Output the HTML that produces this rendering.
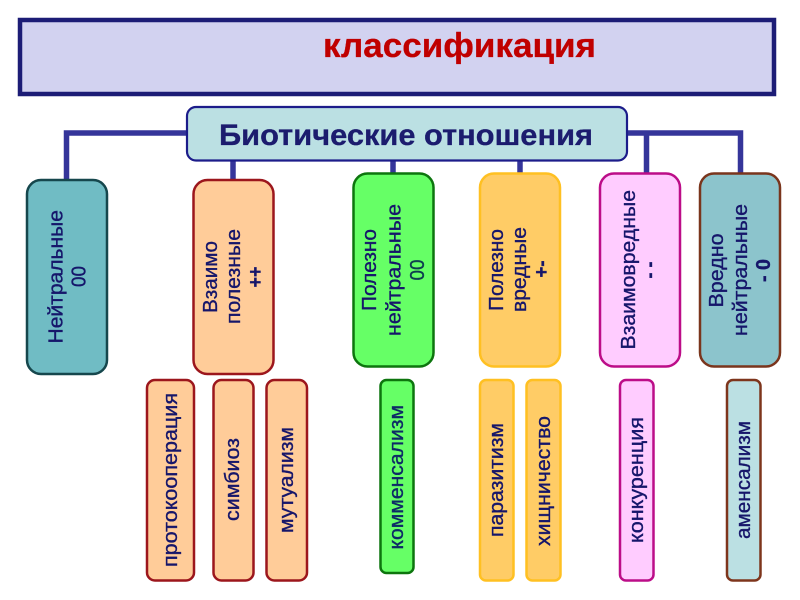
<!DOCTYPE html>
<html><head><meta charset="utf-8">
<style>
html,body{margin:0;padding:0;background:#fff}
svg{display:block}
text{font-family:"Liberation Sans",sans-serif;fill:#14146a;font-size:20px;stroke:#14146a;stroke-width:.35px}
.b{font-weight:bold}
</style></head>
<body>
<svg width="800" height="600" viewBox="0 0 800 600" xmlns="http://www.w3.org/2000/svg">
<defs><filter id="bl" x="0" y="0" width="100%" height="100%"><feGaussianBlur stdDeviation="0.3"/></filter></defs>
<g filter="url(#bl)">
<rect x="0" y="0" width="800" height="600" fill="#fff"/>
<rect x="20" y="20" width="754" height="74" fill="#d2d2f0" stroke="#1e1e76" stroke-width="4.500"/>
<text x="323" y="57" class="b" style="font-size:34px;fill:#c00000;stroke:#c00000;stroke-width:.3px" textLength="273" lengthAdjust="spacingAndGlyphs">классификация</text>

<g fill="none" stroke="#34349a" stroke-width="5.500">
<path d="M190 133H66.500V182"/>
<path d="M233 158V182"/>
<path d="M393 158V176"/>
<path d="M520 158V176"/>
<path d="M625 133H740.500V176"/>
<path d="M646.500 133V176"/>
</g>
<rect x="187" y="107" width="440" height="53.500" rx="9" fill="#bbe0e3" stroke="#1e1e8a" stroke-width="2.200"/>
<text x="219" y="145" class="b" style="font-size:30px;fill:#1a1a6e;stroke:#1a1a6e;stroke-width:.3px" textLength="374" lengthAdjust="spacingAndGlyphs">Биотические отношения</text>

<g stroke-width="2.500">
<rect x="27" y="180" width="80" height="194" rx="14" fill="#6fbcc4" stroke="#15474d"/>
<rect x="193.500" y="180" width="80" height="194" rx="14" fill="#ffcc99" stroke="#9c141c"/>
<rect x="353.500" y="173.500" width="80" height="193" rx="14" fill="#66ff66" stroke="#0a7410"/>
<rect x="480" y="173.500" width="80" height="193" rx="14" fill="#ffcc66" stroke="#ffc020"/>
<rect x="600" y="173.500" width="80" height="193" rx="14" fill="#ffccff" stroke="#bc0e88"/>
<rect x="700" y="173.500" width="80" height="193" rx="14" fill="#8cc4cc" stroke="#7a341e"/>

<rect x="147" y="380" width="47" height="200.500" rx="8" fill="#ffcc99" stroke="#9c141c"/>
<rect x="213.500" y="380" width="40" height="200.500" rx="8" fill="#ffcc99" stroke="#9c141c"/>
<rect x="266.500" y="380" width="40.500" height="200.500" rx="8" fill="#ffcc99" stroke="#9c141c"/>
<rect x="380.500" y="380" width="33" height="193" rx="6" fill="#66ff66" stroke="#0a7410"/>
<rect x="480" y="380" width="33.500" height="200.500" rx="6" fill="#ffcc66" stroke="#ffc020"/>
<rect x="526.500" y="380" width="34" height="200.500" rx="6" fill="#ffcc66" stroke="#ffc020"/>
<rect x="620" y="380" width="33.500" height="200.500" rx="6" fill="#ffccff" stroke="#bc0e88"/>
<rect x="727" y="380" width="33.500" height="200.500" rx="6" fill="#bbe0e3" stroke="#7e361e"/>
</g>

<text transform="translate(62.500,343.500) rotate(-90)" textLength="133.500" lengthAdjust="spacingAndGlyphs">Нейтральные</text>
<text transform="translate(85.500,287) rotate(-90)" textLength="21" lengthAdjust="spacingAndGlyphs">00</text>

<text transform="translate(217,313) rotate(-90)" textLength="72" lengthAdjust="spacingAndGlyphs">Взаимо</text>
<text transform="translate(240,324) rotate(-90)" textLength="95" lengthAdjust="spacingAndGlyphs">полезные</text>
<text transform="translate(262,287.500) rotate(-90)" class="b" textLength="21" lengthAdjust="spacingAndGlyphs">++</text>

<text transform="translate(376,311) rotate(-90)" textLength="82" lengthAdjust="spacingAndGlyphs">Полезно</text>
<text transform="translate(400.500,336) rotate(-90)" textLength="132" lengthAdjust="spacingAndGlyphs">нейтральные</text>
<text transform="translate(424,280.500) rotate(-90)" style="fill:#0e3d50;stroke:#0e3d50" textLength="21" lengthAdjust="spacingAndGlyphs">00</text>

<text transform="translate(503,311) rotate(-90)" textLength="82" lengthAdjust="spacingAndGlyphs">Полезно</text>
<text transform="translate(526,312) rotate(-90)" textLength="85" lengthAdjust="spacingAndGlyphs">вредные</text>
<text transform="translate(548,277.500) rotate(-90)" class="b" textLength="17" lengthAdjust="spacingAndGlyphs">+-</text>

<text transform="translate(635,349.500) rotate(-90)" textLength="159.500" lengthAdjust="spacingAndGlyphs">Взаимовредные</text>
<text transform="translate(656,278.500) rotate(-90)" class="b" textLength="17" lengthAdjust="spacingAndGlyphs">- -</text>

<text transform="translate(723,307.500) rotate(-90)" textLength="74" lengthAdjust="spacingAndGlyphs">Вредно</text>
<text transform="translate(747,336) rotate(-90)" textLength="132" lengthAdjust="spacingAndGlyphs">нейтральные</text>
<text transform="translate(770,282) rotate(-90)" class="b" textLength="23" lengthAdjust="spacingAndGlyphs">- 0</text>

<text transform="translate(177,567) rotate(-90)" textLength="174" lengthAdjust="spacingAndGlyphs">протокооперация</text>
<text transform="translate(239,521) rotate(-90)" textLength="83" lengthAdjust="spacingAndGlyphs">симбиоз</text>
<text transform="translate(293,533) rotate(-90)" textLength="106" lengthAdjust="spacingAndGlyphs">мутуализм</text>
<text transform="translate(403,549.500) rotate(-90)" style="fill:#0e2a66;stroke:#0e2a66" textLength="144.500" lengthAdjust="spacingAndGlyphs">комменсализм</text>
<text transform="translate(503,537) rotate(-90)" textLength="114" lengthAdjust="spacingAndGlyphs">паразитизм</text>
<text transform="translate(550,546) rotate(-90)" textLength="130" lengthAdjust="spacingAndGlyphs">хищничество</text>
<text transform="translate(643,543) rotate(-90)" textLength="126" lengthAdjust="spacingAndGlyphs">конкуренция</text>
<text transform="translate(750,539) rotate(-90)" textLength="118" lengthAdjust="spacingAndGlyphs">аменсализм</text>
</g>
</svg>
</body></html>
